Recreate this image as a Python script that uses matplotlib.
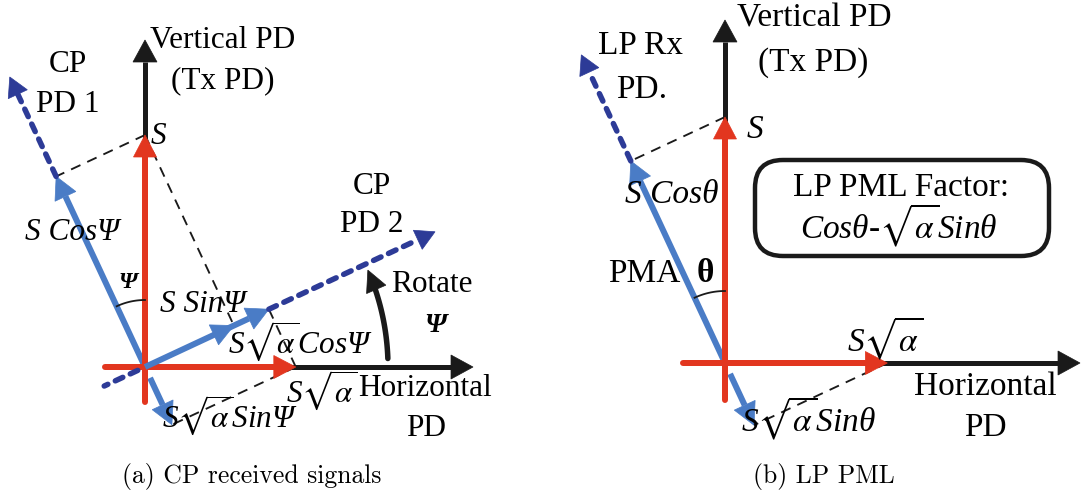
import numpy as np
import matplotlib.pyplot as plt
from matplotlib.patches import Polygon, FancyBboxPatch

plt.rcParams['font.family'] = ['Liberation Serif', 'DejaVu Serif']
plt.rcParams['mathtext.fontset'] = 'stix'

# --- diagram values -----------------------------------------------------
panel_titles = ['(a) CP received signals', '(b) LP PML']
rot_angles_deg = [25, 25]        # Psi (panel a), theta (panel b)
signal_len = [232, 246]          # length of S vector (px)
sqrt_alpha = [0.65, 0.66]        # horizontal gain sqrt(alpha)

RED = '#E2361F'
BLUE = '#4A7CC6'
NAVY = '#2D3B97'
BLACK = '#1A1A1A'
PX = 72 / 100  # pixel -> point

fig = plt.figure(figsize=(10.82, 4.95), dpi=100)
ax = fig.add_axes([0, 0, 1, 1])
ax.set_xlim(0, 1082)
ax.set_ylim(495, 0)
ax.axis('off')


def unit(deg):
    # screen direction, angle counter-clockwise from +x
    a = np.radians(deg)
    return np.array([np.cos(a), -np.sin(a)])


def head(tip, u, L, W, color, z):
    tip = np.asarray(tip, float)
    u = np.asarray(u, float)
    u = u / np.hypot(*u)
    n = np.array([-u[1], u[0]])
    base = tip - L * u
    ax.add_patch(Polygon([tip, base + W / 2 * n, base - W / 2 * n], closed=True,
                         fc=color, ec=color, lw=0.5, zorder=z))
    return base


def arrow(p0, p1, color, lw=6, L=22, W=23, z=3, cap='butt'):
    p0 = np.asarray(p0, float)
    p1 = np.asarray(p1, float)
    base = head(p1, p1 - p0, L, W, color, z)
    ax.plot([p0[0], base[0] - 0], [p0[1], base[1]], color=color, lw=lw * PX,
            solid_capstyle=cap, zorder=z)


def dashed(p0, p1, tip=True):
    p0 = np.asarray(p0, float)
    p1 = np.asarray(p1, float)
    end = head(p1, p1 - p0, 19, 21, NAVY, 4) if tip else p1
    ax.plot([p0[0], end[0]], [p0[1], end[1]], color=NAVY, lw=5.5 * PX,
            dashes=(1.5, 1.5), dash_capstyle='round', zorder=4)


def guide(p0, p1):
    ax.plot([p0[0], p1[0]], [p0[1], p1[1]], color=BLACK, lw=1.35,
            dashes=(5.5, 4), zorder=2)


def angle_arc(o, r, a0, a1, lw=1.3):
    a = np.linspace(a0, a1, 40)
    pts = np.array([o + r * unit(t) for t in a])
    ax.plot(pts[:, 0], pts[:, 1], color=BLACK, lw=lw, zorder=5)


# ====================== panel (a) =======================================
o = np.array([145.0, 367.0])
s, ra, psi = signal_len[0], sqrt_alpha[0], rot_angles_deg[0]
c, sn = np.cos(np.radians(psi)), np.sin(np.radians(psi))
up, right = unit(90), unit(0)
d1, d2 = unit(90 + psi), unit(psi)

arrow(o, o + up * 327, BLACK, lw=5, L=22, W=24, z=1)
arrow(o, o + right * 328, BLACK, lw=5, L=22, W=24, z=1)
arrow(o - up * 35, o + up * s, RED, z=3, cap='round')
arrow(o - right * 40, o + right * s * ra, RED, z=3, cap='round')

p_cos = o + d1 * s * c
p_sin = o + d2 * s * sn
p_acos = o + d2 * s * ra * c
p_asin = o - d1 * s * ra * sn
arrow(o, p_cos, BLUE, z=2)
arrow(o, p_acos, BLUE, z=3.5)
head(p_sin, d2, 22, 22, BLUE, 3.5)
arrow(o - d1 * 12, p_asin, BLUE, z=2)
dashed(p_cos, o + d1 * 320)
dashed(p_acos, o + d2 * 320)
dashed(o - d2 * 8, o - d2 * 45, tip=False)

guide(o + up * s, p_cos)
guide(o + up * s, p_sin)
guide(o + right * s * ra, p_acos)
guide(o + right * s * ra, p_asin)
angle_arc(o, 67, 90, 90 + psi)

# rotate arrow
R = 243
tip_a = psi - 1.5
tip = o + R * unit(tip_a)
base = head(tip, unit(tip_a + 90), 21, 21, BLACK, 5)
a_end = tip_a - np.degrees(21 / R)
aa = np.linspace(2, a_end, 40)
pts = np.array([o + R * unit(t) for t in aa])
ax.plot(pts[:, 0], pts[:, 1], color=BLACK, lw=5.5 * PX, solid_capstyle='round', zorder=5)

fs = 22.5
ax.text(223, 40, 'Vertical PD', fontsize=fs, ha='center', va='center')
ax.text(223, 81, '(Tx PD)', fontsize=fs, ha='center', va='center')
ax.text(68, 65, 'CP', fontsize=fs, ha='center', va='center')
ax.text(68, 105, 'PD 1', fontsize=fs, ha='center', va='center')
ax.text(158, 137, 'S', fontsize=fs, style='italic', ha='center', va='center')
ax.text(72, 232, 'S CosΨ', fontsize=fs, style='italic', ha='center', va='center')
ax.text(128, 283, 'Ψ', fontsize=17, style='italic', weight='bold', ha='center', va='center')
ax.text(203, 305, 'S SinΨ', fontsize=fs, style='italic', ha='center', va='center')
ax.text(372, 186, 'CP', fontsize=fs, ha='center', va='center')
ax.text(372, 225, 'PD 2', fontsize=fs, ha='center', va='center')
ax.text(432, 285, 'Rotate', fontsize=fs, ha='center', va='center')
ax.text(435, 325, 'Ψ', fontsize=20, style='italic', weight='bold', ha='center', va='center')
ax.text(300, 341, r'S$\sqrt{\alpha}$CosΨ', fontsize=fs, style='italic', ha='center', va='center')
ax.text(322, 390, r'S$\sqrt{\alpha}$', fontsize=fs, style='italic', ha='center', va='center')
ax.text(425, 389, 'Horizontal', fontsize=fs, ha='center', va='center')
ax.text(426, 428, 'PD', fontsize=fs, ha='center', va='center')
ax.text(230, 415, r'S$\sqrt{\alpha}$SinΨ', fontsize=fs, style='italic', ha='center', va='center')
ax.text(252, 476, panel_titles[0], fontsize=18.5, family='cmr10', ha='center', va='center')

# ====================== panel (b) =======================================
o = np.array([725.0, 363.0])
s, ra, th = signal_len[1], sqrt_alpha[1], rot_angles_deg[1]
c, sn = np.cos(np.radians(th)), np.sin(np.radians(th))
d1 = unit(90 + th)

arrow(o, o + up * 343, BLACK, lw=5, L=22, W=24, z=1)
arrow(o, o + right * 355, BLACK, lw=5, L=22, W=24, z=1)
arrow(o - up * 37, o + up * s, RED, z=3, cap='round')
arrow(o - right * 42, o + right * s * ra, RED, z=3, cap='round')

p_cos = o + d1 * s * c
p_asin = o - d1 * s * ra * sn
arrow(o, p_cos, BLUE, z=2)
arrow(o - d1 * 12, p_asin, BLUE, z=2)
dashed(p_cos, o + d1 * 340)
guide(o + up * s, p_cos)
guide(o + right * s * ra, p_asin)
angle_arc(o, 72, 90, 90 + th)

ax.add_patch(FancyBboxPatch((755, 160), 294, 96,
                            boxstyle='round,pad=0,rounding_size=28',
                            fc='none', ec=BLACK, lw=3.2, zorder=5))

fs = 24
ax.text(814, 18, 'Vertical PD', fontsize=fs, ha='center', va='center')
ax.text(813, 63, '(Tx PD)', fontsize=fs, ha='center', va='center')
ax.text(641, 46, 'LP Rx', fontsize=fs, ha='center', va='center')
ax.text(642, 90, 'PD.', fontsize=fs, ha='center', va='center')
ax.text(755, 130, 'S', fontsize=fs, style='italic', ha='center', va='center')
ax.text(672, 195, 'S Cosθ', fontsize=fs, style='italic', ha='center', va='center')
ax.text(644, 274, 'PMA', fontsize=fs, ha='center', va='center')
ax.text(705, 274, 'θ', fontsize=fs, weight='bold', ha='center', va='center')
ax.text(901, 188, 'LP PML Factor:', fontsize=fs, ha='center', va='center')
ax.text(899, 225, r'Cosθ-$\sqrt{\alpha}$Sinθ', fontsize=fs, style='italic', ha='center', va='center')
ax.text(885, 338, r'S$\sqrt{\alpha}$', fontsize=fs, style='italic', ha='center', va='center')
ax.text(985, 387, 'Horizontal', fontsize=fs, ha='center', va='center')
ax.text(985, 428, 'PD', fontsize=fs, ha='center', va='center')
ax.text(808, 418, r'S$\sqrt{\alpha}$Sinθ', fontsize=fs, style='italic', ha='center', va='center')
ax.text(824, 476, panel_titles[1], fontsize=18.5, family='cmr10', ha='center', va='center')

fig.savefig('out.png', dpi=100)
